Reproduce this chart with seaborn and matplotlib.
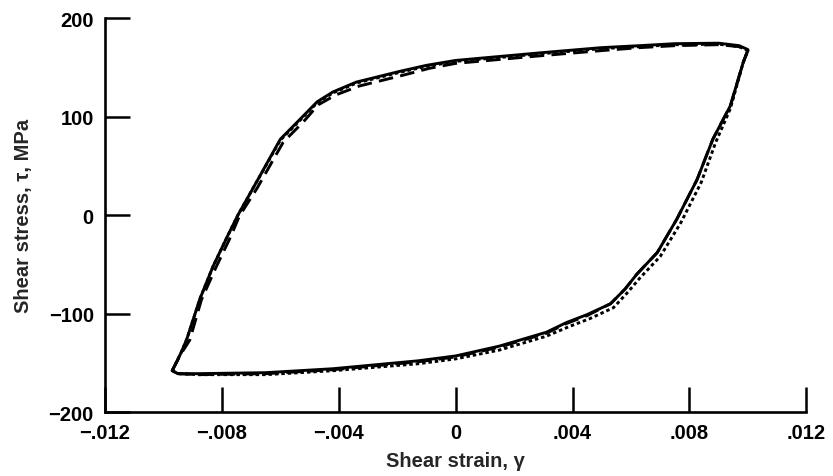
import numpy as np
import pandas as pd
import matplotlib
matplotlib.use("Agg")
import matplotlib.pyplot as plt
import seaborn as sns

# --- DATA ---
# loop starts at lower-left corner, goes up, across the top, down, back along the bottom
strain_solid = [-0.0097, -0.0094, -0.0092, -0.00875, -0.0083, -0.0078, -0.00745, -0.0069, -0.0060,
                -0.0053, -0.00474, -0.0042, -0.0034, -0.0019, -0.0010, 0.0, 0.0015, 0.0030, 0.0050,
                0.0063, 0.0075, 0.0090, 0.0097, 0.0100, 0.00984, 0.0094, 0.0088, 0.00826, 0.00757,
                0.0069, 0.0062, 0.0058, 0.0053, 0.0045, 0.0038, 0.0031, 0.0015, 0.0, -0.0013,
                -0.0042, -0.0065, -0.0088, -0.0095, -0.0097]
stress_solid = [-158, -140, -126, -85, -52, -21, 0, 29, 77,
                98, 115, 125, 135, 146, 152, 157, 161, 165, 170,
                172, 174, 174.5, 172, 168, 155, 111, 77, 36, -4,
                -38, -60, -75, -90, -101, -109, -119, -133, -143, -148,
                -156, -160, -161, -161, -158]

strain_dash = [-0.0097, -0.0094, -0.0091, -0.0087, -0.0082, -0.0077, -0.0074, -0.0068, -0.0059,
               -0.0052, -0.0047, -0.0041, -0.0033, -0.0018, -0.0009, 0.0, 0.0015, 0.0030, 0.0050,
               0.0063, 0.0075, 0.0090, 0.0097, 0.0100, 0.00984, 0.0094, 0.0088, 0.00826, 0.00757,
               0.0069, 0.0062, 0.0058, 0.0053, 0.0045, 0.0038, 0.0031, 0.0015, 0.0, -0.0013,
               -0.0042, -0.0065, -0.0088, -0.0095, -0.0097]
stress_dash = [-158, -141, -127, -86, -53, -22, -1, 27, 74,
               95, 112, 122, 131, 142, 149, 154, 158, 162, 167,
               170, 172, 173, 171, 167, 155, 111, 77, 36, -4,
               -38, -60, -75, -90, -102, -110, -120, -134, -144, -149,
               -157, -161, -162, -161, -158]

strain_dot = [-0.0097, -0.0094, -0.0092, -0.00875, -0.0083, -0.0078, -0.00745, -0.0069, -0.0060,
              -0.0053, -0.00474, -0.0042, -0.0034, -0.0019, -0.0010, 0.0, 0.0015, 0.0030, 0.0050,
              0.0063, 0.0075, 0.0090, 0.0097, 0.0100, 0.00984, 0.0094, 0.0089, 0.0084, 0.0077,
              0.0070, 0.0063, 0.0059, 0.0054, 0.0046, 0.0039, 0.0031, 0.0015, 0.0, -0.0013,
              -0.0042, -0.0065, -0.0088, -0.0095, -0.0097]
stress_dot = [-158, -140, -126, -85, -52, -21, 0, 29, 76,
              97, 114, 124, 134, 145, 151, 156, 160, 164, 169,
              171, 173, 173.5, 171, 167, 155, 108, 74, 33, -8,
              -42, -64, -78, -94, -105, -113, -123, -137, -146, -151,
              -158, -162, -162, -161, -158]

x_ticks = [-0.012, -0.008, -0.004, 0.0, 0.004, 0.008, 0.012]
x_ticklabels = ["\u2212.012", "\u2212.008", "\u2212.004", "0", ".004", ".008", ".012"]
y_ticks = [-200, -100, 0, 100, 200]
y_ticklabels = ["\u2212200", "\u2212100", "0", "100", "200"]

# --- STYLE ---
sns.set_style("ticks")
plt.rcParams['font.family'] = ['Liberation Sans', 'DejaVu Sans']

fig = plt.figure(figsize=(8.33, 4.77), dpi=100)
ax = fig.add_axes([0.126, 0.134, 0.842, 0.826])

curves = [(strain_dot, stress_dot, (0, (1.2, 1.0))),
          (strain_dash, stress_dash, (0, (5, 2.5))),
          (strain_solid, stress_solid, "-")]
for xs, ys, ls in curves:
    d = pd.DataFrame({"strain": xs, "stress": ys})
    sns.lineplot(data=d, x="strain", y="stress", sort=False, estimator=None,
                 color="black", lw=2.1, ax=ax, linestyle=ls)

ax.set_xlim(-0.012, 0.012)
ax.set_ylim(-200, 200)
ax.set_xticks(x_ticks)
ax.set_xticklabels(x_ticklabels, fontweight="bold")
ax.set_yticks(y_ticks)
ax.set_yticklabels(y_ticklabels, fontweight="bold")
ax.tick_params(direction="in", length=18, width=1.8, labelsize=14.5, colors="black", pad=8)
sns.despine(ax=ax)
for s in ["left", "bottom"]:
    ax.spines[s].set_linewidth(1.9)
    ax.spines[s].set_color("black")

ax.set_xlabel("Shear strain, \u03b3", fontsize=14.5, fontweight="bold", labelpad=6)
ax.set_ylabel("Shear stress, \u03c4, MPa", fontsize=14.5, fontweight="bold", labelpad=11)

fig.savefig("out.png", dpi=100)
